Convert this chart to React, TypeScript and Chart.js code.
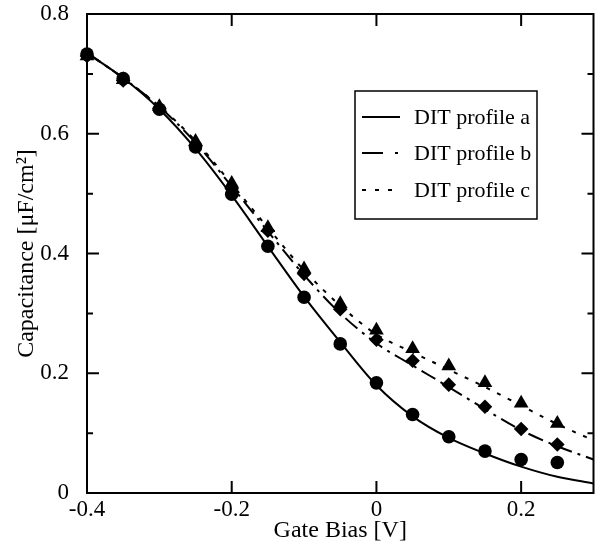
import React, { useEffect, useRef } from 'react';
import { Chart, registerables } from 'chart.js';

Chart.register(...registerables);

// Measured points (markers)
const biasPoints = [-0.4, -0.35, -0.3, -0.25, -0.2, -0.15, -0.1, -0.05, 0, 0.05, 0.1, 0.15, 0.2, 0.25];
const measA = [0.733, 0.692, 0.641, 0.578, 0.499, 0.412, 0.327, 0.249, 0.184, 0.131, 0.094, 0.07, 0.056, 0.051];
const measB = [0.73, 0.689, 0.642, 0.58, 0.508, 0.438, 0.366, 0.307, 0.256, 0.221, 0.181, 0.144, 0.107, 0.081];
const measC = [0.73, 0.69, 0.645, 0.587, 0.517, 0.443, 0.374, 0.316, 0.272, 0.241, 0.212, 0.184, 0.15, 0.116];

// Simulated curves
const biasLine = [-0.4, -0.35, -0.3, -0.25, -0.2, -0.15, -0.1, -0.05, 0, 0.05, 0.1, 0.15, 0.2, 0.25, 0.3];
const fitA = [0.735, 0.693, 0.641, 0.575, 0.497, 0.412, 0.328, 0.252, 0.18, 0.128, 0.092, 0.066, 0.044, 0.027, 0.016];
const fitB = [0.735, 0.693, 0.645, 0.585, 0.512, 0.437, 0.364, 0.3, 0.25, 0.213, 0.177, 0.14, 0.105, 0.078, 0.056];
const fitC = [0.735, 0.693, 0.646, 0.588, 0.516, 0.443, 0.372, 0.313, 0.265, 0.235, 0.206, 0.177, 0.146, 0.115, 0.088];

const seriesLabels = ['DIT profile a', 'DIT profile b', 'DIT profile c'];

// Axis ticks
const xTickValues = [-0.4, -0.2, 0, 0.2];
const yTickValues = [0, 0.2, 0.4, 0.6, 0.8];
const yMinorValues = [0.1, 0.3, 0.5, 0.7];

const FONT = "'Liberation Serif', 'Times New Roman', Times, serif";

const fmt = (v: number) => (Math.abs(v) < 1e-9 ? '0' : v.toFixed(1));

export default function App() {
  const ref = useRef<HTMLCanvasElement>(null);

  useEffect(() => {
    if (!ref.current) return;

    const framePlugin = {
      id: 'frameTicks',
      beforeDatasetsDraw(chart: any) {
        const { ctx, chartArea: a, scales } = chart;
        const x = scales.x;
        const y = scales.y;
        ctx.save();
        ctx.strokeStyle = '#000';
        ctx.lineWidth = 2;
        ctx.strokeRect(a.left, a.top, a.right - a.left, a.bottom - a.top);
        ctx.beginPath();
        xTickValues.forEach((v) => {
          const px = x.getPixelForValue(v);
          ctx.moveTo(px, a.bottom);
          ctx.lineTo(px, a.bottom - 12);
          ctx.moveTo(px, a.top);
          ctx.lineTo(px, a.top + 12);
        });
        yTickValues.forEach((v) => {
          const py = y.getPixelForValue(v);
          ctx.moveTo(a.left, py);
          ctx.lineTo(a.left + 12, py);
          ctx.moveTo(a.right, py);
          ctx.lineTo(a.right - 12, py);
        });
        yMinorValues.forEach((v) => {
          const py = y.getPixelForValue(v);
          ctx.moveTo(a.left, py);
          ctx.lineTo(a.left + 6, py);
          ctx.moveTo(a.right, py);
          ctx.lineTo(a.right - 6, py);
        });
        ctx.stroke();
        ctx.restore();
      },
    };

    const legendPlugin = {
      id: 'boxLegend',
      afterDatasetsDraw(chart: any) {
        const { ctx } = chart;
        const bx = 355, by = 91, bw = 182, bh = 128;
        ctx.save();
        ctx.fillStyle = '#fff';
        ctx.fillRect(bx, by, bw, bh);
        ctx.strokeStyle = '#000';
        ctx.lineWidth = 1.5;
        ctx.strokeRect(bx, by, bw, bh);
        const rows = [117, 153, 190];
        const lineDs = chart.data.datasets.filter((d: any) => d.isFit);
        lineDs.forEach((d: any, i: number) => {
          const yy = rows[i];
          ctx.beginPath();
          ctx.setLineDash(d.legendDash || []);
          ctx.lineWidth = 2;
          ctx.moveTo(362, yy);
          ctx.lineTo(400, yy);
          ctx.stroke();
          ctx.setLineDash([]);
          ctx.fillStyle = '#000';
          ctx.font = `22px ${FONT}`;
          ctx.textBaseline = 'middle';
          ctx.textAlign = 'left';
          ctx.fillText(d.label, 414, yy + 1);
        });
        ctx.restore();
      },
    };

    const toXY = (xs: number[], ys: number[]) => xs.map((v, i) => ({ x: v, y: ys[i] }));

    const lineCommon = {
      type: 'line' as const,
      borderColor: '#000',
      borderWidth: 2,
      pointRadius: 0,
      fill: false,
      cubicInterpolationMode: 'monotone' as const,
      isFit: true,
    };
    const markCommon = {
      type: 'scatter' as const,
      backgroundColor: '#000',
      borderColor: '#000',
      borderWidth: 0,
      showLine: false,
      clip: false as any,
    };

    const chart = new Chart(ref.current, {
      type: 'scatter',
      data: {
        datasets: [
          { ...lineCommon, label: seriesLabels[0], data: toXY(biasLine, fitA), borderDash: [], legendDash: [] },
          { ...lineCommon, label: seriesLabels[1], data: toXY(biasLine, fitB), borderDash: [16, 6, 3, 6], legendDash: [21, 12, 3, 12] },
          { ...lineCommon, label: seriesLabels[2], data: toXY(biasLine, fitC), borderDash: [4, 8], legendDash: [4, 9] },
          { ...markCommon, label: 'a meas', data: toXY(biasPoints, measA), pointStyle: 'circle', pointRadius: 6.8 },
          { ...markCommon, label: 'b meas', data: toXY(biasPoints, measB), pointStyle: 'rectRot', pointRadius: 7.3 },
          { ...markCommon, label: 'c meas', data: toXY(biasPoints, measC), pointStyle: 'triangle', pointRadius: 8.5 },
        ] as any,
      },
      options: {
        responsive: false,
        animation: false,
        layout: { padding: { left: 0, top: 14, right: 7, bottom: 0 } },
        plugins: { legend: { display: false }, tooltip: { enabled: false } },
        scales: {
          x: {
            type: 'linear',
            min: -0.4,
            max: 0.3,
            grid: { display: false },
            border: { display: false },
            afterBuildTicks: (s: any) => {
              s.ticks = xTickValues.map((v) => ({ value: v }));
            },
            afterFit: (s: any) => {
              s.height = 54;
              s.paddingLeft = 0;
              s.paddingRight = 0;
            },
            ticks: {
              color: '#000',
              font: { family: FONT, size: 23 },
              padding: -5,
              maxRotation: 0,
              callback: (v: any) => fmt(Number(v)),
            },
            title: {
              display: true,
              text: 'Gate Bias [V]',
              color: '#000',
              font: { family: FONT, size: 24 },
              padding: { top: 0, bottom: 2 },
            },
          },
          y: {
            type: 'linear',
            min: 0,
            max: 0.8,
            grid: { display: false },
            border: { display: false },
            afterBuildTicks: (s: any) => {
              s.ticks = yTickValues.map((v) => ({ value: v }));
            },
            afterFit: (s: any) => {
              s.width = 87;
              s.paddingTop = 0;
              s.paddingBottom = 0;
            },
            ticks: {
              color: '#000',
              font: { family: FONT, size: 23 },
              padding: 10,
              callback: (v: any) => fmt(Number(v)),
            },
            title: {
              display: true,
              text: 'Capacitance [μF/cm²]',
              color: '#000',
              font: { family: FONT, size: 24 },
              padding: { top: 12, bottom: 0 },
            },
          },
        },
      },
      plugins: [framePlugin, legendPlugin],
    } as any);

    return () => chart.destroy();
  }, []);

  return (
    <div style={{ position: 'fixed', left: 0, top: 0, width: 602, height: 547, background: '#fff' }}>
      <canvas ref={ref} width={602} height={547} style={{ display: 'block' }} />
    </div>
  );
}
